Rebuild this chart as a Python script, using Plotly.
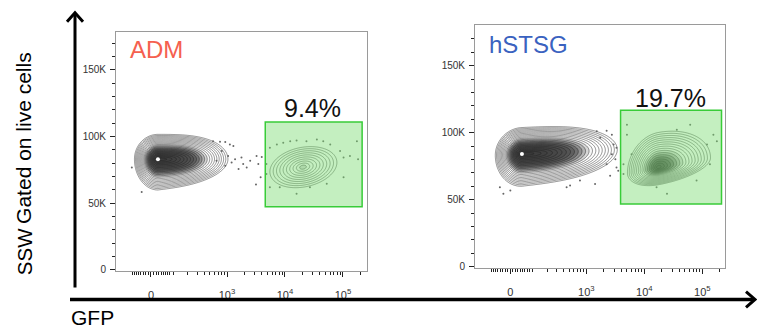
import numpy as np
import plotly.graph_objects as go

# ---------------- data ----------------
W_LOGICLE = 98.0  # asinh width of the GFP display scale


def logicle(v):
    return np.arcsinh(np.asarray(v, dtype=float) / W_LOGICLE) / np.log(10)


panel_names = ["ADM", "hSTSG"]
panel_colors = ["#f5604f", "#3a62c0"]
gate_pct = ["9.4%", "19.7%"]

# GFP values below are in logicle display units (decades), SSW in thousands
gate_x0 = [1.97, 1.90]
gate_x1 = [3.64, 3.64]
gate_y0 = [47.3, 46.8]
gate_y1 = [110.8, 116.7]
pct_x = [2.78, 2.76]
pct_y = [121.0, 125.5]

# population shape parameters, one list per panel:
# [GFP- population, GFP+ population]
pop_x0 = [[0.12, 2.62], [0.20, 2.55]]
pop_y0 = [[83.0, 77.0], [84.0, 74.0]]
pop_sl = [[0.135, 0.19], [0.153, 0.177]]
pop_sr = [[0.58, 0.195], [0.79, 0.30]]
pop_pr = [[3.0, 2.0], [3.0, 2.0]]      # exponent of right-side fall-off
pop_sup = [[6.2, 5.0], [6.6, 8.7]]
pop_sdn = [[7.7, 5.0], [8.0, 4.3]]
pop_sslope = [[-1.8, 0.0], [-1.0, 0.0]]
pop_tilt = [[0.0, 6.0], [2.0, 8.0]]
pop_rings = [[22, 10], [22, 17]]        # number of contour rings

# outlier events (GFP logicle units, SSW K)
dots1_x = [1.07, 1.19, 1.28, 1.36, 1.42, 1.33, 1.45, 1.56, 1.59, 1.65, 1.51, 1.39, 1.28,
           1.71, 1.82, 1.91, 1.85, 1.81, 1.89, 1.99, 2.05, 2.17, 2.28, 2.40, 2.51, 2.68,
           2.86, 2.97, 3.09, 3.26, 3.32, 3.43, 3.55, 3.57, 3.32, 3.03, 2.74, 2.51, 2.22,
           2.05, 1.99, -0.16, -0.33, 1.13, 1.22]
dots1_y = [96.5, 96.0, 95.8, 94.0, 92.8, 85.4, 82.9, 84.2, 79.3, 76.8, 75.6, 80.5, 78.1,
           81.8, 85.4, 84.7, 79.3, 64.0, 69.4, 71.9, 91.6, 94.0, 95.3, 96.5, 97.0, 96.5,
           97.7, 96.5, 94.0, 89.1, 84.2, 85.4, 96.5, 82.9, 69.4, 64.5, 62.0, 57.1, 62.0,
           62.0, 79.3, 58.3, 76.8, 81.8, 89.1]
dots2_x = [1.49, 1.66, 1.75, 1.55, 1.78, 1.83, 1.75, 1.81, 1.66, 1.83, 1.86, 1.72, 1.46,
           1.20, 1.03, 0.97, 2.01, 2.09, 1.95, 1.95, 2.01, 2.52, 2.70, 3.21, 3.44, 3.56,
           3.50, 3.39, 3.10, 2.87, -0.18, -0.12, 0.00]
dots2_y = [101.0, 101.4, 98.5, 96.1, 91.1, 88.7, 83.8, 80.1, 76.4, 74.0, 71.6, 67.9, 61.7,
           64.2, 60.6, 59.3, 98.5, 83.8, 76.4, 69.1, 105.8, 59.3, 54.4, 64.2, 76.4, 93.6,
           98.5, 91.1, 105.8, 102.2, 59.3, 54.4, 56.9]
dots_x = [dots1_x, dots2_x]
dots_y = [dots1_y, dots2_y]

# axes
x_ranges = [[-0.603, 3.724], [-0.609, 3.70]]
y_ranges = [[-0.74, 178.7], [-0.96, 180.6]]
x_major_vals = [0, 1e3, 1e4, 1e5]
x_major_text = ["0", "10<sup>3</sup>", "10<sup>4</sup>", "10<sup>5</sup>"]
x_minor_vals = ([-v for v in range(10, 90, 10)] + list(range(10, 90, 10)) +
                list(range(100, 1000, 100)) + list(range(2000, 10000, 1000)) +
                list(range(20000, 100000, 10000)) + [200000])
y_major_vals = [0, 50, 100, 150]
y_major_text = ["0", "50K", "100K", "150K"]
y_minor_vals = [v for v in range(10, 180, 10) if v % 50 != 0]

# ---------------- layout geometry ----------------
FW, FH = 757, 333
x_domains = [[116 / FW, 367 / FW], [475 / FW, 725 / FW]]
y_domains = [[1 - 275 / FH, 1 - 32 / FH], [1 - 272 / FH, 1 - 25 / FH]]
FONT = "Helvetica, Arial, Liberation Sans, sans-serif"
R_OUT = 3.0


def ring_field(xg, yg, k):
    """Contour-ring index field: outer boundary = 0, population peak = n rings."""
    X, Y = np.meshgrid(xg, yg)
    field = np.full(X.shape, -1.0)
    for i in range(len(pop_x0[k])):
        dx = X - pop_x0[k][i]
        rl = (dx / pop_sl[k][i]) ** 2
        rr = np.abs(dx / pop_sr[k][i]) ** pop_pr[k][i]
        rx = np.where(dx < 0, rl, rr)
        m = pop_y0[k][i] + pop_tilt[k][i] * dx
        sup = np.full(X.shape, pop_sup[k][i])
        sdn = np.maximum(pop_sdn[k][i] + pop_sslope[k][i] * np.maximum(dx, 0), 2.0)
        dy = Y - m
        s = np.where(dy > 0, sup, sdn)
        r = np.sqrt(rx + (dy / s) ** 2)
        zi = pop_rings[k][i] * (1 - r / R_OUT)
        field = np.maximum(field, zi)
    return field


fig = go.Figure()
ZMAX = 22
gray_scale = [[0, "rgba(255,255,255,0)"], [0.36, "rgba(255,255,255,0)"],
              [0.45, "rgba(120,120,120,0.25)"], [0.6, "rgba(80,80,80,0.5)"],
              [1, "rgba(60,60,60,0.62)"]]

for k in range(2):
    xa = "x" if k == 0 else "x2"
    ya = "y" if k == 0 else "y2"
    xg = np.linspace(x_ranges[k][0], x_ranges[k][1], 360)
    yg = np.linspace(y_ranges[k][0], y_ranges[k][1], 360)
    z = ring_field(xg, yg, k)
    fig.add_trace(go.Contour(
        x=xg, y=yg, z=z, xaxis=xa, yaxis=ya,
        contours=dict(start=0, end=ZMAX - 0.5, size=1, coloring="fill"),
        colorscale=gray_scale, zmin=0, zmax=ZMAX, zauto=False,
        line=dict(color="rgba(30,30,30,0.8)", width=0.6),
        showscale=False, hoverinfo="skip"))
    # bright peak of the GFP- population
    fig.add_trace(go.Scatter(
        x=[pop_x0[k][0]], y=[pop_y0[k][0]], xaxis=xa, yaxis=ya, mode="markers",
        marker=dict(size=4, color="white"), hoverinfo="skip", showlegend=False))
    fig.add_trace(go.Scatter(
        x=dots_x[k], y=dots_y[k], xaxis=xa, yaxis=ya, mode="markers",
        marker=dict(size=2, color="#666"), hoverinfo="skip", showlegend=False))
    # gate
    fig.add_shape(type="rect", xref=xa, yref=ya,
                  x0=gate_x0[k], x1=gate_x1[k], y0=gate_y0[k], y1=gate_y1[k],
                  fillcolor="rgba(124,219,115,0.45)", layer="above",
                  line=dict(color="#38cc38", width=1.5))
    fig.add_annotation(x=pct_x[k], y=pct_y[k], xref=xa, yref=ya, text=gate_pct[k],
                       showarrow=False, font=dict(family=FONT, size=25, color="#111"))
    fig.add_annotation(x=x_ranges[k][0] + 0.2, y=165.5, xref=xa, yref=ya,
                       text=panel_names[k], xanchor="left", showarrow=False,
                       font=dict(family=FONT, size=24, color=panel_colors[k]))

axis_common = dict(showgrid=False, zeroline=False, showline=True, linecolor="#9a9a9a",
                   linewidth=1, mirror=True, ticks="outside", tickcolor="#222",
                   tickwidth=1, tickfont=dict(family=FONT, size=10, color="#333"))
layout = dict(width=FW, height=FH, margin=dict(l=0, r=0, t=0, b=0),
              paper_bgcolor="white", plot_bgcolor="white", showlegend=False)
for k in range(2):
    sx = "" if k == 0 else "2"
    layout["xaxis" + sx] = dict(
        axis_common, domain=x_domains[k], range=x_ranges[k], anchor="y" + sx,
        tickmode="array", tickvals=list(logicle(x_major_vals)), ticktext=x_major_text,
        ticklen=5, ticklabelstandoff=9, tickfont=dict(family=FONT, size=11, color="#333"),
        minor=dict(tickmode="array", tickvals=list(logicle(x_minor_vals)), ticklen=3,
                   ticks="outside", tickcolor="#222", tickwidth=1))
    layout["yaxis" + sx] = dict(
        axis_common, domain=y_domains[k], range=y_ranges[k], anchor="x" + sx,
        tickmode="array", tickvals=y_major_vals, ticktext=y_major_text, ticklen=5,
        ticklabelstandoff=2,
        minor=dict(tickmode="array", tickvals=y_minor_vals, ticklen=3,
                   ticks="outside", tickcolor="#222", tickwidth=1))
fig.update_layout(**layout)


def px(x):
    return x / FW


def py(y):
    return 1 - y / FH


# big axis arrows
fig.add_shape(type="line", xref="paper", yref="paper", x0=px(75), x1=px(75),
              y0=py(292), y1=py(14), line=dict(color="black", width=3))
fig.add_shape(type="path", xref="paper", yref="paper",
              path=f"M {px(67)} {py(22)} L {px(75)} {py(13)} L {px(83)} {py(22)}",
              line=dict(color="black", width=3))
fig.add_shape(type="line", xref="paper", yref="paper", x0=px(70), x1=px(754),
              y0=py(304), y1=py(304), line=dict(color="black", width=3.5))
fig.add_shape(type="path", xref="paper", yref="paper",
              path=f"M {px(746)} {py(296)} L {px(755)} {py(304)} L {px(746)} {py(312)}",
              line=dict(color="black", width=3))

fig.add_annotation(x=px(24), y=py(140), xref="paper", yref="paper",
                   xanchor="center", yanchor="middle",
                   text="Gated on live cells", textangle=-90, showarrow=False,
                   font=dict(family=FONT, size=21, color="black"))
fig.add_annotation(x=px(24), y=py(256), xref="paper", yref="paper",
                   xanchor="center", yanchor="middle",
                   text="SSW", textangle=-90, showarrow=False,
                   font=dict(family=FONT, size=20.5, color="black"))
fig.add_annotation(x=px(69), y=py(322), xref="paper", yref="paper", xanchor="left",
                   yanchor="middle", text="GFP", showarrow=False,
                   font=dict(family=FONT, size=21, color="black"))

fig.write_html("out.html")
